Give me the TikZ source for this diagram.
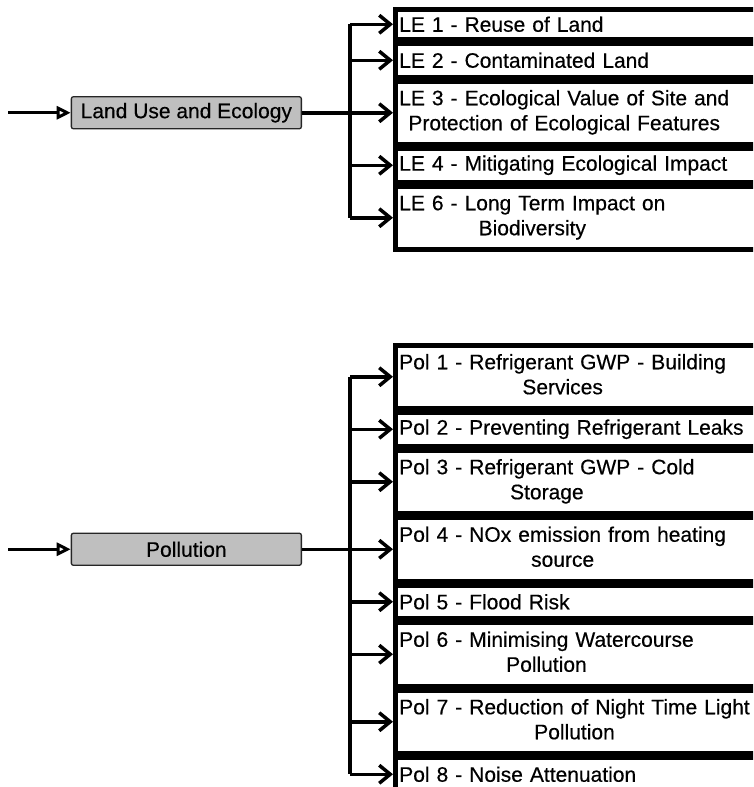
\documentclass[tikz,border=0pt]{standalone}
\usepackage{fontspec}
\setmainfont[FakeBold=0.4]{Liberation Sans}
\usetikzlibrary{positioning, arrows.meta}

\newcommand{\twolines}[2]{\begin{tabular}{@{}c@{}}#1\\#2\end{tabular}}

\begin{document}
\begin{tikzpicture}[
    x=1pt, y=-1pt,
    every node/.style={font=\fontsize{21}{25}\selectfont},
    category/.style={
        rectangle,
        draw=black!85,
        line width=1.3pt,
        fill=black!25,
        rounded corners=2pt,
        minimum width=230pt,
        minimum height=32pt,
        inner sep=0pt
    },
    item/.style={
        rectangle,
        draw,
        line width=4.5pt,
        text width=420pt,
        align=left,
        inner xsep=4pt,
        inner ysep=0pt,
        minimum height=33pt
    },
    itemtwo/.style={
        item,
        minimum height=63pt
    },
    arrow/.style={
        -{Straight Barb[length=11pt,width=18pt]},
        line width=3.5pt
    },
    feed/.style={
        -{Triangle[open,length=14pt,width=13pt]},
        line width=3pt
    },
    trunk/.style={
        line width=3.5pt
    }
]

\useasboundingbox (0,0) rectangle (753,787);
\clip (0,0) rectangle (753,787);

% Land use and ecology
\node[item, minimum height=30pt, anchor=north west] (le1) at (393,7) {LE 1 - Reuse of Land};
\node[item, below=0pt of le1] (le2) {LE 2 - Contaminated Land};
\node[itemtwo, below=0pt of le2] (le3) {\twolines{LE 3 - Ecological Value of Site and}{Protection of Ecological Features}};
\node[item, below=0pt of le3] (le4) {LE 4 - Mitigating Ecological Impact};
\node[itemtwo, below=0pt of le4] (le6) {\twolines{LE 6 - Long Term Impact on}{Biodiversity}};

\node[category, left=91pt of le3] (land) {Land Use and Ecology};

\coordinate (landin) at (8,0);
\coordinate (landtrunk) at (350,0);

\draw[feed] (land.west -| landin) -- (land.west);
\draw[arrow] (land.east) -- (le3.west);
\draw[trunk] (le1.west -| landtrunk) -- (le6.west -| landtrunk);
\foreach \n in {le1,le2,le4,le6}
    \draw[arrow] (\n.west -| landtrunk) -- (\n.west);

% Pollution
\node[itemtwo, anchor=north west] (pol1) at (393,343) {\twolines{Pol 1 - Refrigerant GWP - Building}{Services}};
\node[item, below=0pt of pol1] (pol2) {Pol 2 - Preventing Refrigerant Leaks};
\node[itemtwo, below=0pt of pol2] (pol3) {\twolines{Pol 3 - Refrigerant GWP - Cold}{Storage}};
\node[itemtwo, below=0pt of pol3] (pol4) {\twolines{Pol 4 - NOx emission from heating}{source}};
\node[item, below=0pt of pol4] (pol5) {Pol 5 - Flood Risk};
\node[itemtwo, below=0pt of pol5] (pol6) {\twolines{Pol 6 - Minimising Watercourse}{Pollution}};
\node[itemtwo, below=0pt of pol6] (pol7) {\twolines{Pol 7 - Reduction of Night Time Light}{Pollution}};
\node[item, below=0pt of pol7] (pol8) {Pol 8 - Noise Attenuation};

\node[category, left=91pt of pol4] (pollution) {Pollution};

\coordinate (polin) at (8,0);
\coordinate (poltrunk) at (350,0);

\draw[feed] (pollution.west -| polin) -- (pollution.west);
\draw[arrow] (pollution.east) -- (pol4.west);
\draw[trunk] (pol1.west -| poltrunk) -- (pol8.west -| poltrunk);
\foreach \n in {pol1,pol2,pol3,pol5,pol6,pol7,pol8}
    \draw[arrow] (\n.west -| poltrunk) -- (\n.west);

\end{tikzpicture}
\end{document}
